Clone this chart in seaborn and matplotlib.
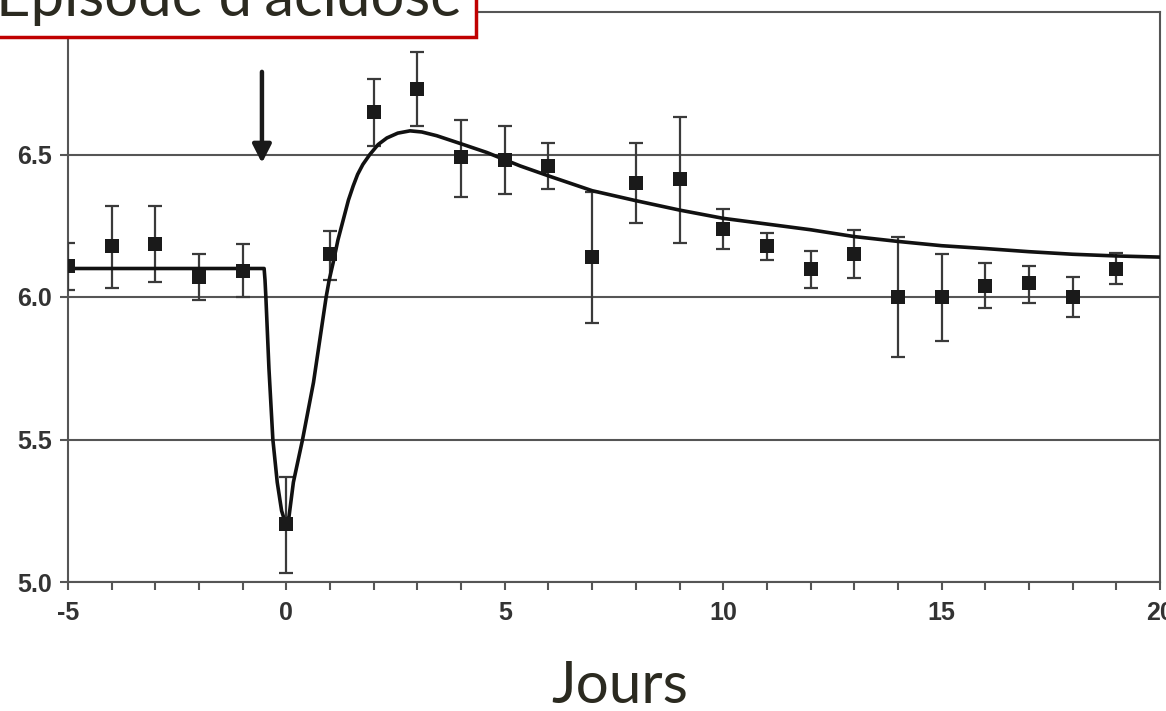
import matplotlib
matplotlib.use("Agg")
import matplotlib.pyplot as plt
from matplotlib.patches import Rectangle
from matplotlib.ticker import MultipleLocator
import seaborn as sns
import pandas as pd
import numpy as np

# ---- data ----
days = [-5, -4, -3, -2, -1, 0, 1, 2, 3, 4, 5, 6, 7, 8, 9, 10, 11, 12, 13, 14, 15, 16, 17, 18, 19]
ph_mean = [6.11, 6.18, 6.185, 6.07, 6.09, 5.205, 6.15, 6.65, 6.73, 6.49, 6.48, 6.46, 6.14, 6.40, 6.415,
           6.24, 6.18, 6.10, 6.15, 6.00, 6.00, 6.04, 6.05, 6.00, 6.10]
ph_upper = [6.19, 6.32, 6.32, 6.15, 6.185, 5.37, 6.233, 6.765, 6.86, 6.62, 6.60, 6.54, 6.37, 6.54, 6.63,
            6.31, 6.226, 6.16, 6.235, 6.21, 6.15, 6.12, 6.11, 6.07, 6.155]
ph_lower = [6.025, 6.03, 6.054, 5.99, 6.00, 5.03, 6.06, 6.53, 6.60, 6.35, 6.36, 6.38, 5.91, 6.26, 6.19,
            6.17, 6.13, 6.03, 6.065, 5.79, 5.845, 5.96, 5.98, 5.93, 6.045]

curve_x = [-5, -0.51, -0.49, -0.47, -0.40, -0.31, -0.21, -0.11, -0.05, 0.0, 0.06, 0.16, 0.37, 0.62,
           0.91, 0.98, 1.07, 1.18, 1.30, 1.42, 1.53, 1.63, 1.75, 1.91, 2.10, 2.30, 2.55, 2.83, 3.10, 3.44,
           4.01, 4.59, 5.35, 6, 7, 8, 9, 10, 11, 12, 13, 14, 15, 16, 17, 18, 19, 20]
curve_y = [6.10, 6.10, 6.06, 6.00, 5.75, 5.50, 5.35, 5.25, 5.22, 5.205, 5.23, 5.35, 5.50, 5.70,
           6.00, 6.06, 6.12, 6.20, 6.27, 6.34, 6.39, 6.43, 6.465, 6.50, 6.535, 6.558, 6.575, 6.583, 6.579,
           6.566, 6.537, 6.507, 6.46, 6.425, 6.373, 6.338, 6.305, 6.276, 6.256, 6.236, 6.212, 6.195,
           6.18, 6.17, 6.159, 6.15, 6.144, 6.14]

x_major = [-5, 0, 5, 10, 15, 20]
y_ticks = [5.0, 5.5, 6.0, 6.5]
y_tick_labels = ["5.0", "5.5", "6.0", "6.5"]
title_text = "Épisode d'acidose"
x_label = "Jours"

# ---- style ----
sns.set_style("ticks")
plt.rcParams["font.family"] = ["Liberation Sans", "DejaVu Sans"]

W, H = 1166, 711
fig = plt.figure(figsize=(W / 100, H / 100), dpi=100)
ax = fig.add_axes([68 / W, 1 - 582 / H, (1160 - 68) / W, (582 - 12) / H])

axis_col = "#555555"
mark_col = "#1a1a1a"

df = pd.DataFrame({"day": days, "ph": ph_mean})
lo = np.array(ph_mean) - np.array(ph_lower)
hi = np.array(ph_upper) - np.array(ph_mean)

# gridlines
ax.set_axisbelow(True)
ax.yaxis.grid(True, color=axis_col, lw=1.5)

# error bars
ax.errorbar(days, ph_mean, yerr=[lo, hi], fmt="none", ecolor="#3a3a3a",
            elinewidth=1.6, capsize=5, capthick=1.6, zorder=3)

# fitted curve
cdf = pd.DataFrame({"x": curve_x, "y": curve_y})
sns.lineplot(data=cdf, x="x", y="y", sort=False, estimator=None, color="#111111",
             lw=2.6, ax=ax, zorder=4)

# points
sns.scatterplot(data=df, x="day", y="ph", marker="s", s=95, color=mark_col,
                edgecolor=mark_col, linewidth=0, ax=ax, zorder=5)

# arrow marking the event
ax.annotate("", xy=(-0.56, 6.47), xytext=(-0.56, 6.79),
            arrowprops=dict(arrowstyle="-|>,head_length=0.55,head_width=0.28",
                            mutation_scale=20, lw=3.2, color=mark_col,
                            shrinkA=0, shrinkB=0), zorder=6)

ax.set_xlim(-5, 20)
ax.set_ylim(5.0, 7.0)
ax.set_xticks(x_major)
ax.set_xticklabels([str(v) for v in x_major])
ax.xaxis.set_minor_locator(MultipleLocator(1))
ax.set_yticks(y_ticks)
ax.set_yticklabels(y_tick_labels)

for side in ["left", "right", "top", "bottom"]:
    ax.spines[side].set_visible(True)
    ax.spines[side].set_color(axis_col)
    ax.spines[side].set_linewidth(1.5)

ax.tick_params(axis="both", which="both", direction="out", length=5.5, width=1.5,
               color=axis_col)
ax.tick_params(axis="x", which="major", pad=8)
ax.tick_params(axis="y", which="major", pad=6)
for lab in ax.get_xticklabels() + ax.get_yticklabels():
    lab.set_fontsize(18)
    lab.set_fontweight("bold")
    lab.set_color("#333333")

ax.set_xlabel("")
ax.set_ylabel("")

# x label "Jours"
fig.text(620 / W, 1 - 703 / H, x_label, ha="center", va="baseline",
         fontsize=42, color="#2b2a20", family=["Lato", "DejaVu Sans"])

# title box (clipped at top)
rect = Rectangle((-5 / W, 1 - 37 / H), (476 + 5) / W, 60 / H, transform=fig.transFigure,
                 facecolor="white", edgecolor="#c00000", lw=2.5, zorder=20)
fig.add_artist(rect)
fig.text(-4 / W, 1 - 16 / H, title_text, ha="left", va="baseline", fontsize=43,
         color="#2b2a20", family=["Lato", "DejaVu Sans"], zorder=21)

fig.savefig("out.png", dpi=100)
